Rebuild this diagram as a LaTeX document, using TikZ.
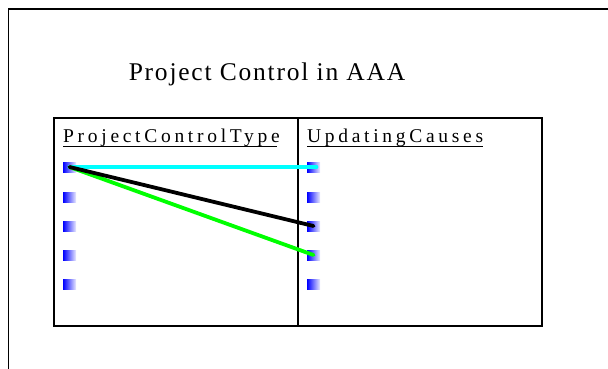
\documentclass[tikz,border=0pt]{standalone}
\usepackage{fontspec}
\setmainfont{Liberation Serif}
\definecolor{lcyan}{RGB}{0,255,255}
\definecolor{lgreen}{RGB}{0,255,0}
\definecolor{pblue}{RGB}{0,0,255}
\begin{document}
\begin{tikzpicture}[x=1pt,y=-1pt,
  frame/.style={draw=black,line width=2.4pt},
  port/.style={minimum width=13pt,minimum height=10pt,inner sep=0pt,left color=pblue,right color=pblue!8,draw=none},
  link/.style={line width=3.8pt,line cap=round},
  hdr/.style={anchor=base west,inner sep=0pt,font=\fontsize{19.5}{19.5}\selectfont\addfontfeatures{LetterSpace=19}}]
\useasboundingbox (0,0) rectangle (608,369);
\clip (0,0) rectangle (608,369);
\fill[white] (0,0) rectangle (608,369);
\draw[line width=1.8pt] (8.5,9) rectangle (640,400);
\node[anchor=base,inner sep=0pt,font=\fontsize{25.5}{25.5}\selectfont\addfontfeatures{LetterSpace=7}] (title) at (267,81) {Project Control in AAA};
\draw[frame] (54,118) rectangle (298,326);
\draw[frame] (298,118) rectangle (542,326);
\node[hdr] (h1) at (63,142) {ProjectControlType};
\node[hdr] (h2) at (307,142) {UpdatingCauses};
\draw[line width=1pt] (h1.base west) ++(0,4) -- ++(214,0);
\draw[line width=1pt] (h2.base west) ++(0,4) -- ++(176,0);
\foreach \i/\y in {1/167,2/197,3/226,4/255,5/284}{
  \node[port] (L\i) at (69.5,\y) {};
  \node[port] (R\i) at (313.5,\y) {};
}
\draw[link,lcyan] (L1.center) -- ([xshift=3pt]R1.center);
\draw[link,lgreen] (L1.center) -- (R4.center);
\draw[link,black] (L1.center) -- (R3.center);
\end{tikzpicture}
\end{document}
